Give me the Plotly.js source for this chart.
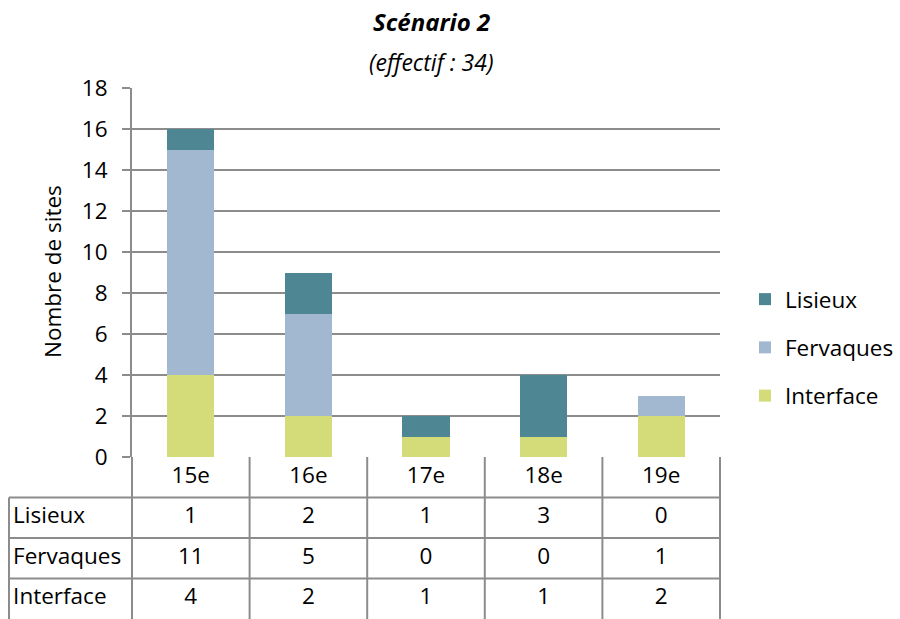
<!DOCTYPE html>
<html>
<head>
<meta charset="utf-8">
<script src="https://cdn.plot.ly/plotly-3.0.1.min.js"></script>
<style>html,body{margin:0;padding:0;background:#fff;}#chart{width:900px;height:619px;}</style>
</head>
<body>
<div id="chart"></div>
<script>
const categories = ["15e", "16e", "17e", "18e", "19e"];
const seriesNames = ["Lisieux", "Fervaques", "Interface"];
const lisieux = [1, 2, 1, 3, 0];
const fervaques = [11, 5, 0, 0, 1];
const interfaceV = [4, 2, 1, 1, 2];
const yTicks = [0, 2, 4, 6, 8, 10, 12, 14, 16, 18];
const titleText = "Scénario 2";
const subtitleText = "(effectif : 34)";
const yTitle = "Nombre de sites";

const colors = {Lisieux: "#4e8693", Fervaques: "#a2b8d0", Interface: "#d4dc7a"};
const FONT = "'Open Sans', Lato, sans-serif";
const GRID = "#8c8c8c";
const FS = 22.5;

const valuesBy = {Lisieux: lisieux, Fervaques: fervaques, Interface: interfaceV};
const stackOrder = ["Interface", "Fervaques", "Lisieux"];

const traces = stackOrder.map(name => ({
  type: "bar", name: name, x: categories, y: valuesBy[name],
  marker: {color: colors[name], line: {width: 0}},
  width: 0.4, xaxis: "x", yaxis: "y", legendgroup: name,
  legendrank: seriesNames.indexOf(name) + 1, hoverinfo: "skip"
}));

// Table text
const idx = categories.map((c, i) => i);
traces.push({
  type: "scatter", mode: "text", x: idx, y: idx.map(() => 0.5), text: categories,
  textfont: {family: FONT, size: FS, color: "#000"}, xaxis: "x2", yaxis: "y2",
  showlegend: false, hoverinfo: "skip", cliponaxis: false
});
seriesNames.forEach((name, r) => {
  traces.push({
    type: "scatter", mode: "text", x: idx, y: idx.map(() => r + 1.5),
    text: valuesBy[name].map(String),
    textfont: {family: FONT, size: FS, color: "#000"}, xaxis: "x2", yaxis: "y2",
    showlegend: false, hoverinfo: "skip", cliponaxis: false
  });
});
const X2MIN = -1.6224, X2MAX = 4.5850;
const LEFT = -0.5 - 123 / 117.6;
traces.push({
  type: "scatter", mode: "text", x: seriesNames.map(() => LEFT + 0.035),
  y: seriesNames.map((n, r) => r + 1.5), text: seriesNames,
  textposition: "middle right",
  textfont: {family: FONT, size: FS, color: "#000"}, xaxis: "x2", yaxis: "y2",
  showlegend: false, hoverinfo: "skip", cliponaxis: false
});

const shapes = [];
const ln = {color: GRID, width: 2};
for (let k = 0; k <= categories.length; k++) {
  shapes.push({type: "line", xref: "x2", yref: "y2", x0: k - 0.5, x1: k - 0.5, y0: 0, y1: 4, line: ln, layer: "above"});
}
shapes.push({type: "line", xref: "x2", yref: "y2", x0: LEFT, x1: LEFT, y0: 1, y1: 4, line: ln, layer: "above"});
for (let r = 1; r <= seriesNames.length; r++) {
  shapes.push({type: "line", xref: "x2", yref: "y2", x0: LEFT, x1: categories.length - 0.5, y0: r, y1: r, line: ln, layer: "above"});
}

const layout = {
  width: 900, height: 619,
  margin: {l: 0, r: 0, t: 0, b: 0},
  paper_bgcolor: "#fff", plot_bgcolor: "rgba(0,0,0,0)",
  barmode: "stack",
  font: {family: FONT, size: FS, color: "#000"},
  xaxis: {domain: [132 / 900, 720 / 900], anchor: "y", type: "category",
    showticklabels: false, ticks: "", showgrid: false, zeroline: false, showline: false,
    range: [-0.5, 4.5], fixedrange: true},
  yaxis: {domain: [162 / 619, 531 / 619], anchor: "x", range: [0, 18], tickvals: yTicks,
    showgrid: true, gridcolor: GRID, gridwidth: 2, zeroline: false,
    showline: true, linecolor: GRID, linewidth: 2, ticks: "outside", ticklen: 8,
    tickcolor: GRID, tickwidth: 2, tickfont: {family: FONT, size: FS, color: "#000"},
    ticklabelstandoff: 10, fixedrange: true},
  xaxis2: {domain: [0, 730 / 900], anchor: "y2", range: [X2MIN, X2MAX], visible: false, fixedrange: true},
  yaxis2: {domain: [0, 162 / 619], anchor: "x2", range: [4, 0], visible: false, fixedrange: true},
  shapes: shapes,
  showlegend: true,
  legend: {x: 745 / 900, xanchor: "left", y: (619 - 278) / 619, yanchor: "top",
    traceorder: "grouped", tracegroupgap: 16,
    font: {family: FONT, size: FS, color: "#000"}, bgcolor: "rgba(0,0,0,0)"},
  annotations: [
    {text: "<b><i>" + titleText + "</i></b>", xref: "paper", yref: "paper",
      x: 431 / 900, y: (619 - 22) / 619, xanchor: "center", yanchor: "middle",
      showarrow: false, font: {family: FONT, size: 24, color: "#000"}},
    {text: "<i>" + subtitleText + "</i>", xref: "paper", yref: "paper",
      x: 431 / 900, y: (619 - 62) / 619, xanchor: "center", yanchor: "middle",
      showarrow: false, font: {family: FONT, size: 23, color: "#000"}},
    {text: yTitle, xref: "paper", yref: "paper", x: 52 / 900, y: (619 - 272) / 619,
      xanchor: "center", yanchor: "middle", textangle: -90, showarrow: false,
      font: {family: FONT, size: FS, color: "#000"}}
  ]
};

Plotly.newPlot("chart", traces, layout, {displayModeBar: false, staticPlot: true});
</script>
</body>
</html>
